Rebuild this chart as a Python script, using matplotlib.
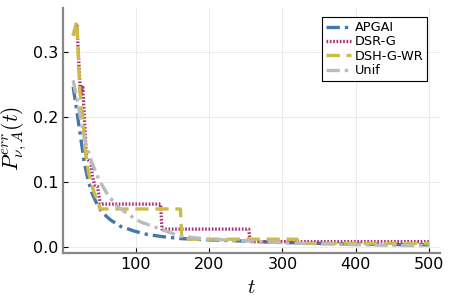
import matplotlib
matplotlib.use("Agg")
import matplotlib.pyplot as plt

plt.rcParams['mathtext.fontset'] = 'cm'
plt.rcParams['font.family'] = ['DejaVu Sans']

# APGAI (blue, dash-dot)
apgai_t = [15, 20, 25, 30, 35, 40, 48, 55, 66, 80, 98, 115, 134, 160, 200, 250, 300, 350, 400, 450, 500]
apgai_v = [0.246, 0.208, 0.170, 0.130, 0.104, 0.084, 0.064, 0.052, 0.041, 0.031, 0.024, 0.019,
           0.0158, 0.0125, 0.0105, 0.0085, 0.0065, 0.005, 0.004, 0.0033, 0.0028]

# DSR-G (purple, dotted)
dsrg_t = [15, 20, 25, 28, 33, 39, 41, 44, 48, 52, 134, 136, 254, 256, 500]
dsrg_v = [0.325, 0.343, 0.232, 0.248, 0.136, 0.130, 0.110, 0.095, 0.093, 0.0655, 0.0655,
          0.027, 0.027, 0.0077, 0.0077]

# DSH-G-WR (yellow, dashed)
dshg_t = [15, 20, 24, 28, 31, 36, 43, 52, 161, 163, 320, 322, 500]
dshg_v = [0.325, 0.347, 0.240, 0.200, 0.150, 0.113, 0.085, 0.058, 0.058, 0.0115, 0.0115,
          0.005, 0.005]

# Unif (grey, dash-dot)
unif_t = [15, 20, 25, 32, 41, 50, 62, 75, 95, 107, 134, 161, 200, 250, 300, 350, 400, 450, 500]
unif_v = [0.256, 0.228, 0.198, 0.159, 0.128, 0.103, 0.080, 0.062, 0.046, 0.038, 0.027, 0.016,
          0.0115, 0.009, 0.006, 0.0045, 0.003, 0.002, 0.0015]

labels = ["APGAI", "DSR-G", "DSH-G-WR", "Unif"]
xticks = [100, 200, 300, 400, 500]
yticks = [0.0, 0.1, 0.2, 0.3]

fig = plt.figure(figsize=(4.49, 2.99), dpi=100)
ax = fig.add_axes([62.5 / 449, 1 - 253.3 / 299, (440 - 62.5) / 449, (253.3 - 8.3) / 299])

lw = 2.4
ax.plot(apgai_t, apgai_v, color="#4477AA", lw=lw, linestyle=(0, (4, 1.5, 1, 1.5)), label=labels[0])
ax.plot(dsrg_t, dsrg_v, color="#AA3377", lw=lw, linestyle=(0, (0.5, 0.5)), label=labels[1])
ax.plot(dshg_t, dshg_v, color="#CCBB44", lw=lw, linestyle=(0, (4, 2)), label=labels[2])
ax.plot(unif_t, unif_v, color="#BBBBBB", lw=lw, linestyle=(0, (4, 1.5, 1, 1.5)), label=labels[3])

ax.set_xlim(0.45, 514.55)
ax.set_ylim(-0.0102, 0.3668)
ax.set_xticks(xticks)
ax.set_yticks(yticks)
ax.set_xticklabels([str(v) for v in xticks])
ax.set_yticklabels([f"{v:.1f}" for v in yticks])

for s in ["top", "right"]:
    ax.spines[s].set_visible(False)
for s in ["left", "bottom"]:
    ax.spines[s].set_color("#888888")
    ax.spines[s].set_linewidth(1.6)

ax.tick_params(direction="in", length=3.5, width=0.8, color="black", labelsize=11.5, pad=3)
ax.grid(True, color="#e8e8e8", linewidth=0.6)
ax.set_axisbelow(True)

ax.set_xlabel(r"$t$", fontsize=15, labelpad=3)
ax.set_ylabel(r"$P^{err}_{\nu,A}(t)$", fontsize=15.5)
ax.yaxis.set_label_coords(-0.088, 0.47)

leg = ax.legend(loc="upper right", bbox_to_anchor=(1 - 12.7 / 377.5, 1 - 9 / 245), fontsize=9.3,
                frameon=True, fancybox=False, framealpha=1, edgecolor="black",
                handlelength=1.9, handletextpad=0.3, borderpad=0.3, labelspacing=0.1,
                borderaxespad=0)
leg.get_frame().set_linewidth(0.8)

fig.savefig("out.png", dpi=100)
